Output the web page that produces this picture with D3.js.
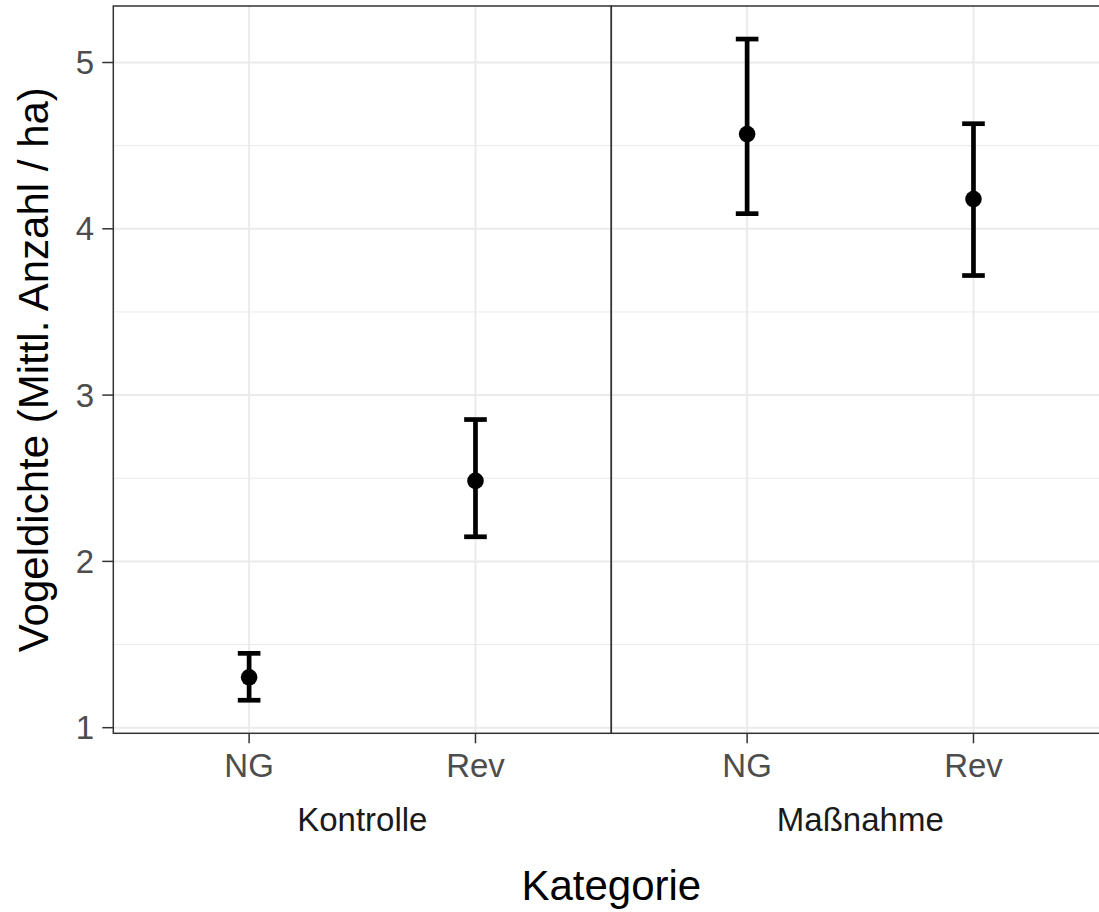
<!DOCTYPE html>
<html>
<head>
<meta charset="utf-8">
<script src="https://cdn.jsdelivr.net/npm/d3@7"></script>
<style>
  html, body { margin: 0; padding: 0; background: #ffffff; }
  svg { display: block; }
  text { font-family: "Liberation Sans", Arial, sans-serif; }
</style>
</head>
<body>
<svg id="chart" width="1099" height="912"></svg>
<script>
// ---- data ----
const facets = ["Kontrolle", "Maßnahme"];
const categories = ["NG", "Rev"];
const pointFacet = ["Kontrolle", "Kontrolle", "Maßnahme", "Maßnahme"];
const pointCategory = ["NG", "Rev", "NG", "Rev"];
const meanValues = [1.303, 2.484, 4.570, 4.179];
const lowerValues = [1.165, 2.148, 4.091, 3.719];
const upperValues = [1.447, 2.853, 5.141, 4.632];
const yTicks = [1, 2, 3, 4, 5];
const yMinorTicks = [1.5, 2.5, 3.5, 4.5];
const xTitle = "Kategorie";
const yTitle = "Vogeldichte (Mittl. Anzahl / ha)";

const rows = meanValues.map((m, i) => ({
  facet: pointFacet[i], cat: pointCategory[i], mean: m, lo: lowerValues[i], hi: upperValues[i]
}));

// ---- layout ----
const svg = d3.select("#chart");
const panelTop = 6, panelBottom = 733.3;
const panelLeft0 = 113.3, panelWidth = 498;

const dMin = d3.min(lowerValues), dMax = d3.max(upperValues);
const ex = (dMax - dMin) * 0.05;
const y = d3.scaleLinear().domain([dMin - ex, dMax + ex]).range([panelBottom, panelTop]);

const fx = d3.scaleOrdinal().domain(facets).range(facets.map((f, i) => panelLeft0 + i * panelWidth));

const gridCol = "#EBEBEB", borderCol = "#333333";

facets.forEach(f => {
  const left = fx(f);
  const x = d3.scalePoint().domain(categories).range([left, left + panelWidth]).padding(0.6);
  const g = svg.append("g");

  // minor grid
  g.selectAll(".ymin").data(yMinorTicks).enter().append("line")
    .attr("x1", left).attr("x2", left + panelWidth)
    .attr("y1", d => y(d)).attr("y2", d => y(d))
    .attr("stroke", gridCol).attr("stroke-width", 1);
  // major grid
  g.selectAll(".ymaj").data(yTicks).enter().append("line")
    .attr("x1", left).attr("x2", left + panelWidth)
    .attr("y1", d => y(d)).attr("y2", d => y(d))
    .attr("stroke", gridCol).attr("stroke-width", 2);
  g.selectAll(".xmaj").data(categories).enter().append("line")
    .attr("x1", d => x(d)).attr("x2", d => x(d))
    .attr("y1", panelTop).attr("y2", panelBottom)
    .attr("stroke", gridCol).attr("stroke-width", 2);

  const pts = rows.filter(r => r.facet === f);
  const capHalf = x.step() * 0.05;
  // error bars
  g.selectAll(".stem").data(pts).enter().append("line")
    .attr("x1", d => x(d.cat)).attr("x2", d => x(d.cat))
    .attr("y1", d => y(d.lo)).attr("y2", d => y(d.hi))
    .attr("stroke", "#000").attr("stroke-width", 4.7);
  ["lo", "hi"].forEach(k => {
    g.selectAll(".cap" + k).data(pts).enter().append("line")
      .attr("x1", d => x(d.cat) - capHalf).attr("x2", d => x(d.cat) + capHalf)
      .attr("y1", d => y(d[k])).attr("y2", d => y(d[k]))
      .attr("stroke", "#000").attr("stroke-width", 4.7);
  });
  // points
  g.selectAll(".pt").data(pts).enter().append("circle")
    .attr("cx", d => x(d.cat)).attr("cy", d => y(d.mean)).attr("r", 8.3)
    .attr("fill", "#000");

  // border
  g.append("rect").attr("x", left).attr("y", panelTop)
    .attr("width", panelWidth).attr("height", panelBottom - panelTop)
    .attr("fill", "none").attr("stroke", borderCol).attr("stroke-width", 1.5);

  // x ticks
  g.selectAll(".xt").data(categories).enter().append("line")
    .attr("x1", d => x(d)).attr("x2", d => x(d))
    .attr("y1", panelBottom).attr("y2", panelBottom + 10)
    .attr("stroke", borderCol).attr("stroke-width", 1.5);
  g.selectAll(".xl").data(categories).enter().append("text")
    .attr("x", d => x(d)).attr("y", 777)
    .attr("text-anchor", "middle").attr("font-size", 33).attr("fill", "#4D4D4D")
    .text(d => d);

  // strip label
  g.append("text").attr("x", left + panelWidth / 2).attr("y", 831)
    .attr("text-anchor", "middle").attr("font-size", 33).attr("fill", "#1A1A1A")
    .text(f);
});

// y axis
const ya = svg.append("g");
ya.selectAll(".yt").data(yTicks).enter().append("line")
  .attr("x1", panelLeft0 - 11).attr("x2", panelLeft0)
  .attr("y1", d => y(d)).attr("y2", d => y(d))
  .attr("stroke", borderCol).attr("stroke-width", 1.5);
ya.selectAll(".yl").data(yTicks).enter().append("text")
  .attr("x", 94).attr("y", d => y(d)).attr("dy", "0.35em")
  .attr("text-anchor", "end").attr("font-size", 33).attr("fill", "#4D4D4D")
  .text(d => d);

// titles
svg.append("text").attr("x", panelLeft0 + panelWidth).attr("y", 900)
  .attr("text-anchor", "middle").attr("font-size", 42).attr("fill", "#000")
  .text(xTitle);
svg.append("text")
  .attr("transform", `translate(48,${(panelTop + panelBottom) / 2}) rotate(-90)`)
  .attr("text-anchor", "middle").attr("font-size", 42).attr("fill", "#000")
  .text(yTitle);
</script>
</body>
</html>
